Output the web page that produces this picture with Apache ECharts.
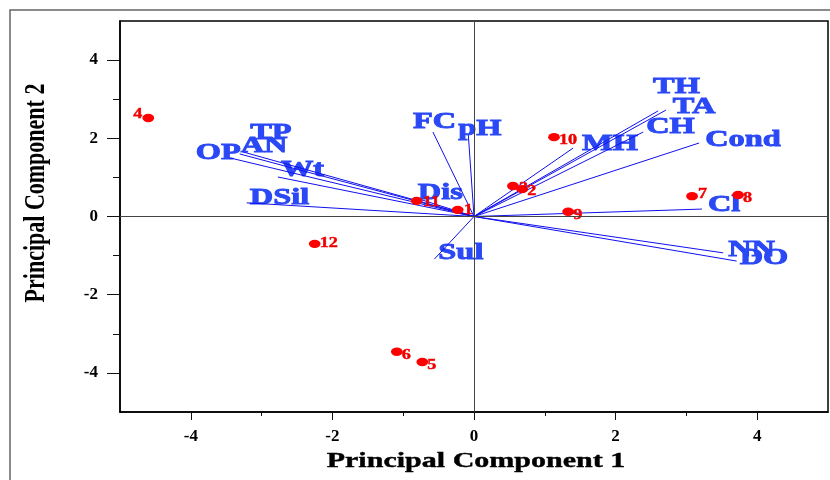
<!DOCTYPE html>
<html><head><meta charset="utf-8">
<script src="https://cdn.jsdelivr.net/npm/echarts@6/dist/echarts.min.js"></script>
<style>html,body{margin:0;padding:0;background:#fff}#c{width:830px;height:480px}</style>
</head><body><div id="c"></div>
<script>
// ---- data ----
const sampleLabels = ['1','2','3','4','5','6','7','8','9','10','11','12'];
const samplePC1 = [-0.23, 0.68, 0.55, -4.60, -0.73, -1.09, 3.08, 3.73, 1.33, 1.13, -0.81, -2.25];
const samplePC2 = [0.17, 0.70, 0.78, 2.52, -3.72, -3.46, 0.52, 0.55, 0.12, 2.03, 0.40, -0.70];

const variableNames = ['TH','TA','CH','MH','Cond','Cl','NN','DO','Sul','FC','pH','Dis','TP','AN','OP','Wt','DSil'];
const variablePC1 = [2.60, 2.71, 2.39, 1.40, 3.18, 3.22, 3.52, 3.71, -0.56, -0.58, -0.08, -0.78, -3.26, -3.31, -3.45, -2.77, -3.21];
const variablePC2 = [2.70, 2.72, 2.16, 1.75, 1.88, 0.19, -0.93, -1.14, -1.09, 2.16, 2.08, 0.45, 1.65, 1.60, 1.50, 1.01, 0.35];

const xMajorTicks = [-4, -2, 0, 2, 4];
const xMinorTicks = [-3, -1, 1, 3];
const yMajorTicks = [-4, -2, 0, 2, 4];
const yMinorTicks = [-3, -1, 1, 3];

// ---- style: label offsets in pixels relative to the mark ----
const variableLabelOffsets = [[-5,-24],[7,-3],[3,-5],[9,-4],[6,-3],[6,-4],[5,-3],[3,-3],[4,-6],[-20,-10],[-10,-6],[-1,-6],[7,-19],[1,-8],[-34,-5],[3,-7],[3,-5]];
const sampleLabelOffsets = [[6,1],[5,2],[6,2],[-6,-4],[5,3],[5,4],[6,-2],[5,3],[5,4],[5,3],[6,2],[5,0]];

const FONT = '"Liberation Serif","Times New Roman",serif';
const STRETCH = 1.35;
const BLUE_TEXT = '#2a48f5';

const chart = echarts.init(document.getElementById('c'), null, {renderer: 'canvas'});

const axisCommonLabel = {fontFamily: FONT, fontWeight: 'bold', fontSize: 17, color: '#000'};

const option = {
  animation: false,
  backgroundColor: '#fff',
  grid: {left: 120, right: 2, top: 21, bottom: 68, show: true, borderColor: '#000', borderWidth: 1.5, outerBoundsMode: 'none'},
  xAxis: [
    {type: 'value', min: -5, max: 5, position: 'bottom',
     axisLine: {show: true, onZero: false, lineStyle: {color: '#000', width: 1.5}},
     axisTick: {show: true, customValues: xMajorTicks, length: 8, lineStyle: {color: '#111', width: 1}},
     axisLabel: Object.assign({customValues: xMajorTicks, margin: 16}, axisCommonLabel),
     splitLine: {show: false}},
    {type: 'value', min: -5, max: 5, position: 'bottom',
     axisLine: {show: false, onZero: false},
     axisTick: {show: true, customValues: xMinorTicks, length: 4, lineStyle: {color: '#111', width: 1}},
     axisLabel: {show: false}, splitLine: {show: false}}
  ],
  yAxis: [
    {type: 'value', min: -5, max: 5, position: 'left',
     axisLine: {show: true, onZero: false, lineStyle: {color: '#000', width: 1.5}},
     axisTick: {show: true, customValues: yMajorTicks, length: 13, lineStyle: {color: '#111', width: 1}},
     axisLabel: Object.assign({customValues: yMajorTicks, margin: 22}, axisCommonLabel),
     splitLine: {show: false}},
    {type: 'value', min: -5, max: 5, position: 'left',
     axisLine: {show: false, onZero: false},
     axisTick: {show: true, customValues: yMinorTicks, length: 7, lineStyle: {color: '#111', width: 1}},
     axisLabel: {show: false}, splitLine: {show: false}}
  ],
  graphic: [
    {type: 'rect', shape: {x: 10, y: 10, width: 840, height: 490}, style: {fill: 'none', stroke: '#666', lineWidth: 1.5}, silent: true},
    {type: 'text', x: 476, y: 462, scaleX: 1.43,
     style: {text: 'Principal Component 1', font: 'bold 21px ' + FONT, fill: '#000', stroke: '#000', lineWidth: 0.4, align: 'center', verticalAlign: 'middle'}},
    {type: 'text', x: 37, y: 193, rotation: Math.PI / 2, scaleY: 1.3,
     style: {text: 'Principal Component 2', font: 'bold 22px ' + FONT, fill: '#000', align: 'center', verticalAlign: 'middle'}}
  ],
  series: [
    {
      name: 'variableLabels', type: 'custom', coordinateSystem: 'cartesian2d', xAxisIndex: 0, yAxisIndex: 0, z: 2,
      data: variableNames.map((n, i) => [variablePC1[i], variablePC2[i], i]),
      renderItem: function (params, api) {
        const e = api.coord([api.value(0), api.value(1)]);
        const i = api.value(2);
        const off = variableLabelOffsets[i];
        return {type: 'text', x: e[0] + off[0], y: e[1] + off[1], scaleX: STRETCH,
          style: {text: variableNames[i], x: 0, y: 0, fill: BLUE_TEXT, stroke: BLUE_TEXT, lineWidth: 0.9,
                  font: 'bold 24px ' + FONT, align: 'left', verticalAlign: 'middle'}};
      },
      markLine: {
        silent: true, symbol: 'none', label: {show: false},
        lineStyle: {color: '#444', width: 1, type: 'solid'},
        data: [{xAxis: 0}, {yAxis: 0}]
      }
    },
    {
      name: 'variableVectors', type: 'custom', coordinateSystem: 'cartesian2d', xAxisIndex: 0, yAxisIndex: 0, z: 3,
      data: variableNames.map((n, i) => [variablePC1[i], variablePC2[i]]),
      renderItem: function (params, api) {
        const o = api.coord([0, 0]);
        const e = api.coord([api.value(0), api.value(1)]);
        return {type: 'line', shape: {x1: o[0], y1: o[1], x2: e[0], y2: e[1]}, style: {stroke: '#1010ee', lineWidth: 1}};
      }
    },
    {
      name: 'samples', type: 'custom', coordinateSystem: 'cartesian2d', xAxisIndex: 0, yAxisIndex: 0, z: 4,
      data: sampleLabels.map((s, i) => [samplePC1[i], samplePC2[i], i]),
      renderItem: function (params, api) {
        const c = api.coord([api.value(0), api.value(1)]);
        const i = api.value(2);
        const off = sampleLabelOffsets[i];
        return {type: 'group', children: [
          {type: 'circle', x: c[0], y: c[1], scaleX: 1.4, shape: {cx: 0, cy: 0, r: 4.2}, style: {fill: '#ff0000'}},
          {type: 'text', x: c[0] + off[0], y: c[1] + off[1], scaleX: 1.3,
           style: {text: sampleLabels[i], x: 0, y: 0, fill: '#f00000', stroke: '#f00000', lineWidth: 0.4,
                   font: 'bold 14px ' + FONT, align: off[0] < 0 ? 'right' : 'left', verticalAlign: 'middle'}}
        ]};
      }
    }
  ]
};
chart.setOption(option);
</script>
</body></html>
